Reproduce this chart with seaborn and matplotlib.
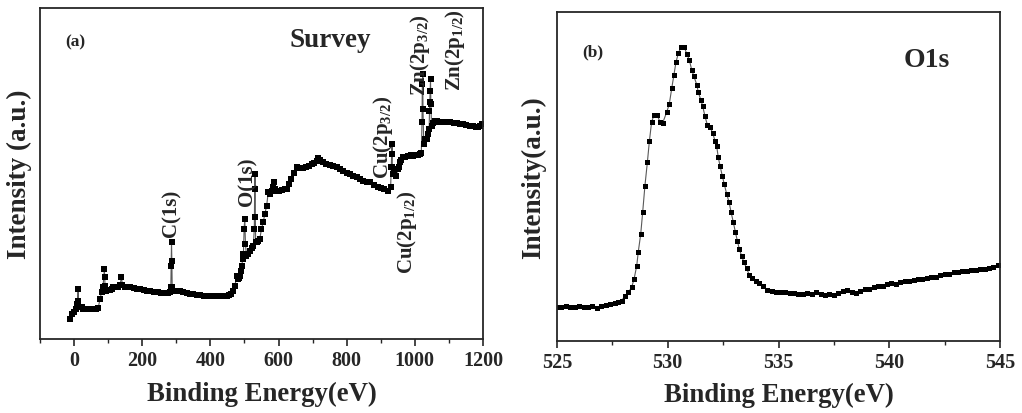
import numpy as np
import pandas as pd
import matplotlib
matplotlib.use("Agg")
import matplotlib.pyplot as plt
from matplotlib.ticker import MultipleLocator
import seaborn as sns

# (a) survey spectrum (arbitrary intensity units)
survey_energy = [
    -12, -5, 0, 5, 10, 12, 13, 17, 22, 27, 35, 45, 56, 65, 71, 76, 81, 85, 89, 90,
    91, 95, 100, 105, 110, 115, 120, 125, 130, 135, 139, 142, 149, 156, 164, 175, 185, 193, 205, 215,
    223, 235, 245, 255, 265, 275, 281, 284, 285, 286, 287, 288, 292, 300, 311, 320, 330, 340, 350, 360,
    370, 380, 390, 400, 410, 420, 430, 440, 448, 455, 462, 467, 472, 477, 480, 483, 487, 490, 492, 495,
    497, 499, 501, 503, 506, 510, 516, 521, 526, 529, 530, 531, 532, 533, 536, 540, 545, 550, 555, 560,
    565, 570, 575, 580, 585, 588, 590, 594, 600, 610, 620, 624, 630, 638, 645, 653, 660, 667, 673, 680,
    690, 697, 705, 712, 717, 722, 731, 740, 750, 760, 771, 780, 790, 800, 810, 820, 830, 840, 849, 860,
    868, 880, 893, 900, 910, 922, 929, 931, 932, 933, 934, 937, 940, 942, 946, 950, 953, 956, 960, 966,
    972, 981, 988, 996, 1005, 1010, 1015, 1019, 1021, 1022, 1023, 1024, 1026, 1030, 1035, 1038, 1042, 1043, 1044, 1045,
    1046, 1047, 1049, 1054, 1059, 1065, 1072, 1079, 1090, 1103, 1115, 1125, 1132, 1140, 1150, 1162, 1172, 1180, 1186, 1190,
    1196,
]
survey_intensity = [
    20, 25, 27, 30, 35, 50, 38, 32, 32, 30, 30, 30, 30, 30.5, 31, 40, 47, 52, 70, 62,
    53, 48, 49, 49, 50, 52, 52, 52, 52, 54, 62, 54, 52, 52, 52, 51, 50.5, 50, 49, 48.5,
    48, 47.5, 47, 46.5, 46.5, 46.5, 47, 52, 73, 97, 78, 52, 48, 48.5, 48.3, 47.5, 46.5, 45.5, 45, 44.5,
    44, 43.5, 43.5, 43.3, 43, 43, 43, 43, 43.3, 44, 45, 48, 53, 63, 60, 61, 63, 68, 73, 80,
    85, 110, 120, 95, 83, 85, 88, 91, 93, 110, 150, 165, 122, 97, 97, 98, 100, 110, 117, 125,
    133, 147, 145, 148, 152, 157, 150, 148, 148, 149, 150, 150, 155, 160, 166, 172, 171, 171, 171, 172,
    173.5, 175, 176, 178, 181, 179, 177, 175, 174, 173, 172, 170, 168, 166.5, 165, 163.5, 162, 160, 158, 157,
    156.7, 154, 151.7, 151, 150, 148.3, 151.7, 172, 185, 195, 172, 165, 168, 170, 163, 170, 172, 177, 179, 182,
    182, 183, 183.5, 183.3, 184, 184, 185, 186, 217, 255, 265, 230, 195, 200, 200, 205, 210, 228, 237, 248,
    260, 235, 213, 216, 218, 217.5, 217, 216.7, 216.7, 216.7, 216, 215.5, 215, 214.5, 214, 213.3, 212.5, 212, 211.7, 213,
    215,
]

# (b) O1s high resolution spectrum
o1s_energy = [
    525.0, 525.2, 525.4, 525.6, 525.8, 526.0, 526.2, 526.4, 526.6, 526.8, 527.0, 527.2, 527.4, 527.6, 527.75,
    527.92, 528.07, 528.22, 528.37, 528.48, 528.6, 528.67, 528.78, 528.87, 528.97, 529.08, 529.17, 529.27, 529.38,
    529.53, 529.65, 529.77, 529.95, 530.07, 530.18, 530.28, 530.37, 530.48, 530.6, 530.75, 530.86, 530.97, 531.08,
    531.18, 531.31, 531.38, 531.49, 531.58, 531.68, 531.79, 531.91, 532.03, 532.13, 532.21, 532.28, 532.36, 532.46,
    532.55, 532.66, 532.77, 532.86, 532.96, 533.05, 533.14, 533.23, 533.34, 533.44, 533.56, 533.68, 533.82, 533.98,
    534.13, 534.3, 534.5, 534.7, 534.9, 535.1, 535.3, 535.5, 535.7, 535.9, 536.1, 536.3, 536.5, 536.7, 536.9,
    537.1, 537.3, 537.5, 537.7, 537.9, 538.1, 538.3, 538.5, 538.7, 538.9, 539.1, 539.3, 539.5, 539.7, 539.9,
    540.1, 540.3, 540.5, 540.7, 540.9, 541.1, 541.3, 541.5, 541.7, 541.9, 542.1, 542.3, 542.5, 542.7, 542.9,
    543.1, 543.3, 543.5, 543.7, 543.9, 544.1, 544.3, 544.5, 544.7, 544.9, 545.0,
]
o1s_intensity = [
    34.5, 34, 35, 34.5, 34, 35, 34.5, 34, 35, 33.5, 35, 36.5, 37.5, 38, 39,
    40.3, 45.3, 48.7, 53.7, 62, 75.3, 89.3, 107, 129.3, 155.3, 178.7, 199.7, 218.7, 226.3,
    226, 218.7, 218, 228.7, 237, 252.7, 266.3, 278.7, 288, 293.7, 293.7, 287, 281.3, 271.3,
    264.7, 256.3, 248.7, 241.3, 234.7, 224.7, 216, 213.7, 208, 200.3, 194.7, 183.7, 175.3, 165.3,
    157, 147, 138.7, 128.7, 118.7, 109.3, 100.3, 92, 84.7, 78.7, 72.7, 66, 62.7, 60.3,
    58, 55, 51, 50, 49.5, 49.3, 49, 48.5, 48, 47.5, 47, 48, 47.5, 48.7, 47.5,
    46.5, 47.5, 46.5, 48, 50, 51, 49, 48.5, 50, 52, 52.5, 54, 55, 55.5, 57,
    58, 57.5, 59, 60, 60.5, 61.5, 62, 62.5, 63.5, 64, 64.5, 66, 67, 67.5, 69,
    69.5, 70, 70.5, 71, 71.5, 72, 72.5, 73, 74, 76, 76.5,
]

# peak labels of the survey panel: energy, intensity, text
peak_energy = [287, 510, 906, 977, 1015, 1118]
peak_height = [127, 158, 203, 108, 285, 290]
peak_names = ["C(1s)", "O(1s)", r"Cu(2p$_{3/2}$)", r"Cu(2p$_{1/2}$)",
              r"Zn(2p$_{3/2}$)", r"Zn(2p$_{1/2}$)"]

survey_df = pd.DataFrame({"energy": survey_energy, "intensity": survey_intensity})
o1s_df = pd.DataFrame({"energy": o1s_energy, "intensity": o1s_intensity})

sns.set_style("ticks")
plt.rcParams["font.family"] = ["Liberation Serif", "DejaVu Serif"]
plt.rcParams["font.weight"] = "bold"
plt.rcParams["mathtext.fontset"] = "custom"
plt.rcParams["mathtext.rm"] = "Liberation Serif:bold"
plt.rcParams["mathtext.it"] = "Liberation Serif:bold"
plt.rcParams["mathtext.bf"] = "Liberation Serif:bold"
plt.rcParams["mathtext.default"] = "bf"

fig = plt.figure(figsize=(10.22, 4.14), dpi=100)
ax1 = fig.add_axes([0.0391, 0.1787, 0.4335, 0.7996])
ax2 = fig.add_axes([0.5450, 0.1739, 0.4335, 0.7947])

line_kw = dict(color="0.35", marker="s", markerfacecolor="black", markeredgewidth=0,
               linewidth=0.8, estimator=None, sort=False, legend=False)
sns.lineplot(data=survey_df, x="energy", y="intensity", ax=ax1, markersize=4.2, **line_kw)
sns.lineplot(data=o1s_df, x="energy", y="intensity", ax=ax2, markersize=3.6, **line_kw)

ax1.set_xlim(-100, 1200)
ax1.set_ylim(0, 331)
ax1.xaxis.set_major_locator(MultipleLocator(200))
ax1.xaxis.set_minor_locator(MultipleLocator(100))
ax1.set_ylabel("Intensity (a.u.)", fontsize=19.5, fontweight="bold")
ax1.yaxis.set_label_coords(-0.018, 0.5)

ax2.set_xlim(525, 545)
ax2.set_ylim(0, 329)
ax2.xaxis.set_major_locator(MultipleLocator(5))
ax2.xaxis.set_minor_locator(MultipleLocator(2.5))
ax2.set_ylabel("Intensity(a.u.)", fontsize=19.5, fontweight="bold")
ax2.yaxis.set_label_coords(-0.025, 0.5)

for ax in (ax1, ax2):
    ax.set_xlabel("Binding Energy(eV)", fontsize=19.3, fontweight="bold")
    ax.xaxis.set_label_coords(0.5, -0.125)
    ax.set_yticks([])
    ax.tick_params(axis="x", which="major", direction="out", length=5, width=1.2,
                   labelsize=14.5, pad=3)
    ax.tick_params(axis="x", which="minor", direction="out", length=3, width=1.0)
    for lab in ax.get_xticklabels():
        lab.set_fontweight("bold")
    for sp in ax.spines.values():
        sp.set_visible(True)
        sp.set_linewidth(1.3)

# panel annotations
ax1.text(0.08, 0.9, "(a)", transform=ax1.transAxes, fontsize=12.5, fontweight="bold",
         ha="center", va="center")
ax1.text(0.655, 0.905, "Survey", transform=ax1.transAxes, fontsize=19.5, fontweight="bold",
         ha="center", va="center")
for x, y, txt in zip(peak_energy, peak_height, peak_names):
    ax1.text(x, y, txt, rotation=90, fontsize=15, fontweight="bold",
             ha="center", va="center")

ax2.text(0.08, 0.88, "(b)", transform=ax2.transAxes, fontsize=12.5, fontweight="bold",
         ha="center", va="center")
ax2.text(0.835, 0.855, "O1s", transform=ax2.transAxes, fontsize=20, fontweight="bold",
         ha="center", va="center")

fig.savefig("out.png", dpi=100)
plt.close(fig)
